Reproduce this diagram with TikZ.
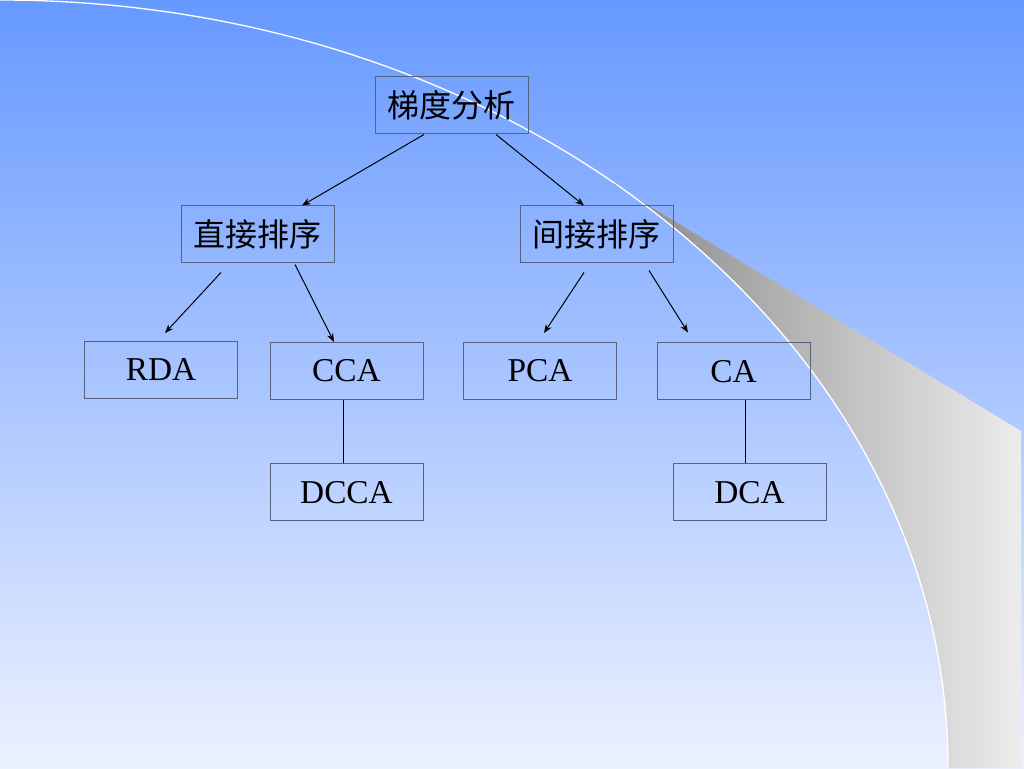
\documentclass[tikz,border=0pt]{standalone}
\usepackage{fontspec}
\setmainfont{Liberation Serif}
\newfontfamily\cjk{Noto Sans CJK SC}
\usetikzlibrary{calc,arrows.meta}
\definecolor{bgtop}{RGB}{102,153,255}
\definecolor{bgbot}{RGB}{236,241,255}
\definecolor{boxline}{RGB}{88,98,125}
\definecolor{curlA}{RGB}{135,135,135}
\definecolor{curlB}{RGB}{205,205,205}
\definecolor{curlC}{RGB}{236,236,236}
\tikzset{
  box/.style={draw=boxline, line width=0.75pt, minimum width=114.75pt, minimum height=42.75pt,
    inner sep=0pt, font=\fontsize{25pt}{30pt}\selectfont},
  cbox/.style={box, font=\cjk\fontsize{24pt}{30pt}\selectfont},
  arr/.style={draw=black, line width=0.75pt, -{Stealth[length=6.5pt,width=5pt]}},
  link/.style={draw=black, line width=0.75pt}
}
\begin{document}
\begin{tikzpicture}[x=0.75pt,y=0.75pt]
\useasboundingbox (0,0) rectangle (1024,768);
\shade[top color=bgtop, bottom color=bgbot] (0,0) rectangle (1024,768);
% page curl
\shade[left color=curlA, middle color=curlB, right color=curlC]
  (613,584) -- (1021,337) -- (1021,0) -- (948,0)
  arc[start angle=0,end angle=49.7,x radius=948,y radius=768] -- cycle;
\draw[white, line width=1pt] (948,0) arc[start angle=0,end angle=90,x radius=948,y radius=768];
% nodes
\node[cbox] (top) at (451.5,662.5) {梯度分析};
\node[cbox] (l1) at (257.5,533.5) {直接排序};
\node[cbox] (r1) at (596.5,533.5) {间接排序};
\node[box] (rda) at (161,398) {RDA};
\node[box] (cca) at (346.5,397) {CCA};
\node[box] (pca) at (540,397) {PCA};
\node[box] (ca) at (733.5,396.5) {CA};
\node[box] (dcca) at (346.5,275.5) {DCCA};
\node[box] (dca) at (749.5,275.5) {DCA};
% connectors
\draw[arr] ($(top.south)+(-27.5,0)$) -- ($(l1.north)+(44.5,0)$);
\draw[arr] ($(top.south)+(44.5,0)$) -- ($(r1.north)+(-12.5,0)$);
\draw[arr] ($(l1.south)+(-36.5,-9)$) -- ($(rda.north)+(4,8)$);
\draw[arr] ($(l1.south)+(37.5,-1)$) -- ($(cca.north)+(-12.5,0)$);
\draw[arr] ($(r1.south)+(-12.5,-9)$) -- ($(pca.north)+(4,9)$);
\draw[arr] ($(r1.south)+(52.5,-7)$) -- ($(ca.north)+(-45.5,10)$);
\draw[link] ($(cca.south)+(-3.5,0)$) -- ($(dcca.north)+(-3.5,0)$);
\draw[link] ($(ca.south)+(11.5,0)$) -- ($(dca.north)+(-4.5,0)$);
\end{tikzpicture}
\end{document}
